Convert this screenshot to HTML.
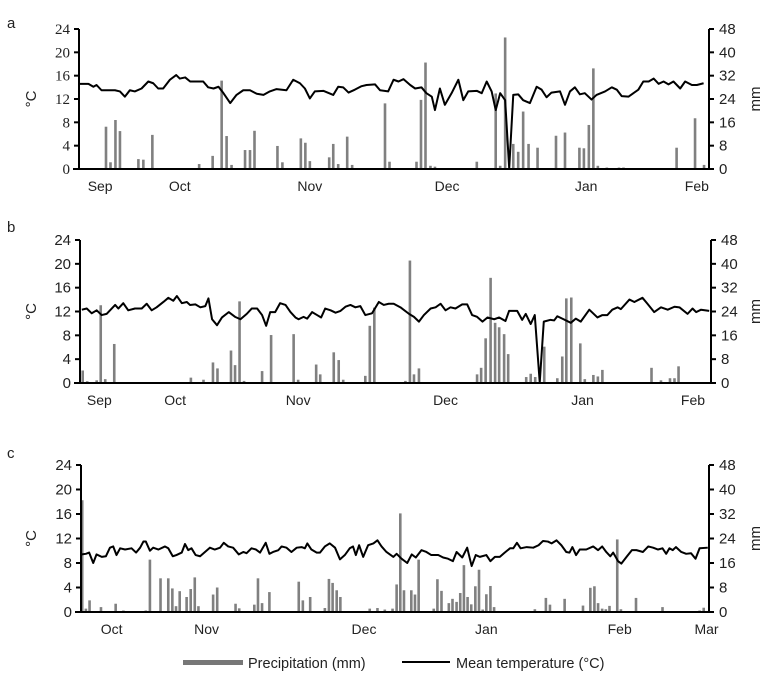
<!DOCTYPE html>
<html><head><meta charset="utf-8">
<style>
html,body{margin:0;padding:0;background:#fff;}
svg{display:block;font-family:"Liberation Sans",Arial,sans-serif;}
</style></head>
<body>
<svg id="chart" width="777" height="679" viewBox="0 0 777 679" xmlns="http://www.w3.org/2000/svg">
<g>
  <rect x="183" y="660" width="60" height="5" fill="#777"/>
  <text x="248" y="668" font-size="14.5" fill="#222">Precipitation (mm)</text>
  <line x1="402" y1="662" x2="450" y2="662" stroke="#000" stroke-width="2"/>
  <text x="456" y="668" font-size="14.5" fill="#222">Mean temperature (°C)</text>
</g>
</svg>
<script>
// ---- Panel a data ----
const aTempDay=[0.2,2.1,3.2,3.9,5,8,9.1,10.2,11.3,12.4,13.9,15.4,16.5,17.6,18.7,20.2,21.6,22.4,23.6,24.7,26.1,27.6,28.7,29.9,31,32.1,33.6,35,36.5,38,39.5,41,42.4,43.9,46.1,47.6,49.1,50.2,51.3,52.4,54.3,56.5,57.6,58.7,59.9,61.3,62.8,63.9,65.8,66.9,68.7,69.9,71,72.1,73.6,74.7,76.1,77.2,78.4,79.1,80.2,81.3,82.8,84.3,85.4,86.5,88.4,89.5,90.6,91.7,92.6,93.6,94.7,95.6,96.5,97.6,98.7,100.2,101.7,102.8,103.9,105,106.9,108,109.1,110.2,111.3,112.4,113.9,115,116.9,118.4,119.5,120.6,122.1,123.2,124.3,125.4,126.6,127.7,128.8,129.9,131,132.1,133.6,134.7,136.2,137.3,138.8];
const aTempVal=[14.6,14.6,14.1,14.4,13.5,13.5,13.3,12.4,13.5,13.3,13.8,15,14.7,13.8,13.8,15.3,16.1,15.5,15.7,15,15,15,14,13.8,14.1,13,11.3,12.7,13.5,13.5,12.9,12.7,13.3,13.7,13.5,15.3,14.7,13.8,12.1,13.3,13.4,12.7,14.1,14,13.1,13.6,14.2,14.4,14.5,13.5,13.3,15.3,15,15.4,14.4,13.8,14,13,12.4,10.1,13.8,11,13,15.3,11.8,13.3,13.4,13,15,13.3,10.1,13,11.8,0.1,12.7,12.8,11.8,11.3,14.1,13.6,12.3,13.1,13.3,11,13.3,14,12.8,13,11.9,12.7,13.3,14,13.6,12.5,12.4,13,13.6,15,15,15.5,14.6,15,14.5,15,13.8,15,14.4,14.4,14.7];
const aRainDay=[6,7,8.1,9.1,10.2,13.2,14.3,16.3,19.5,26.7,29.7,31.7,32.8,33.9,36.9,38,39,44.1,45.2,49.3,50.3,51.3,55.6,56.5,57.6,59.6,60.7,68,69,75,76,77,78.1,79.1,88.4,92.6,93.6,94.7,96.5,97.6,98.7,99.9,101.9,106,108,111.2,112.2,113.3,114.3,115.3,117.3,120,121,132.8,136.9,138.9];
const aRainVal=[14.5,2.3,16.8,13,0.2,3.4,3.2,11.7,0.2,1.7,4.5,30.3,11.3,1.4,6.5,6.5,13.1,7.9,2.3,10.5,9,2.7,4,8.6,1.7,11.1,1.4,22.5,2.5,2.5,23.7,36.5,1.1,0.8,2.5,25.9,1.1,45.1,8.6,5.9,19.7,8.6,7.3,11.4,12.5,7.3,7.1,15.1,34.5,1.1,0.5,0.5,0.5,7.3,17.4,1.4];
const aMonthLabels=["Sep","Oct","Nov","Dec","Jan","Feb"];
const aMonthDay=[4.7,22.4,51.3,81.8,112.7,137.3];

// ---- Panel b data ----
const bTempDay=[0.4,1.5,2.6,3.7,4.8,5.9,7.8,8.5,9.6,10.7,12.2,13.7,14.8,15.9,17,18.5,19.6,20.7,21.5,22.6,23.7,24.4,25.6,26.7,27.8,28.5,29.3,30.4,31.5,33,34.4,35.6,37,38.1,39.3,40.4,41.3,42.2,43.3,44.4,45.6,46.7,47.8,48.5,49.6,50.4,51.5,52.6,53.5,54.4,55.6,56.7,57.8,58.9,60,61.1,62.2,63.3,64.8,66.3,67.4,68.5,69.6,71.1,73,74.1,75.2,76.3,77.8,78.9,80,81.1,82.2,83.3,84.8,85.9,87,88.1,89.3,90.4,91.9,93,94.4,95.2,97,98.1,98.9,100,100.9,102,102.9,104.4,105.2,105.9,107,108.9,110,111.1,113,114.8,115.9,117,118.1,119.3,120,121.9,123,124.8,125.9,127.4,128.9,130.4,131.9,133,134.8,135.9,136.7,137.8,139.6];
const bTempVal=[12.3,12.5,11.7,12.2,11.4,11.6,13.1,12.5,13.4,12.2,12.5,12.5,13.3,12.2,12.7,13.6,14.3,13.8,14.6,13.4,13.6,13.1,13.2,12.7,12.9,14.2,10.7,9.7,11,11.9,11.1,10.7,11.6,12.5,12.5,11.4,9.6,11.9,11.9,13.4,13.1,11.9,11,10.7,11.1,10.8,11.9,11.4,11,12.5,12.2,11.8,12.1,12.8,13.1,12.7,12.9,11.4,11.7,13.6,13.1,13.3,13.3,12.7,11.6,11.1,10.3,11.4,12.5,12.7,13.3,12.2,12.7,12.5,13.2,13.2,11.4,11.1,10.3,11,10.7,11,10.4,12.1,12.1,10.6,11.6,9.9,11.4,0.1,10.3,10.6,10.5,11.2,10.8,10.1,10.8,10.3,12.3,11,11.4,11.4,12.3,12.7,12.4,14,13.6,14.3,13.3,11.9,12.7,12.3,12.8,12.7,11.6,12.5,11.9,12.3,12.1];
const bRainDay=[0.6,1.6,3.7,4.6,5.6,7.6,8.6,11.9,24.6,25.6,27.4,29.5,30.5,33.5,34.4,35.4,36.4,40.4,42.4,47.4,48.4,52.4,53.3,54.3,56.3,57.4,58.4,63.3,64.3,65.3,72.2,73.2,74.1,75.2,88.1,89,90,91.1,92.1,93,94.1,95,99,100,101,103,105.9,107,107.9,109,111,112,113.9,114.9,115.9,126.8,128.9,130.9,131.9,132.8];
const bRainVal=[4.2,0.6,0.9,26.1,1.3,13.1,0.3,0.3,1.8,0.3,1.1,6.9,4.9,10.9,6,27.4,0.7,4,16.1,16.4,1.1,6.2,2.9,0.3,10.3,7.7,1.1,2.4,19.2,25.3,0.7,41.1,2.9,4.9,2.9,5.1,15,35.3,20.2,18.7,16.4,9.7,2,3.1,2,12.2,1.6,8.9,28.4,28.7,13.3,1.3,2.7,2.2,4.4,5.1,0.9,1.6,1.6,5.6];
const bMonthLabels=["Sep","Oct","Nov","Dec","Jan","Feb"];
const bMonthDay=[4.3,21.1,48.4,81.1,111.5,136];

// ---- Panel c data ----
const cTempDay=[0.2,1.2,2,3,3.8,5.1,6.1,7.1,7.9,8.7,9.6,10.8,12.4,13.5,14.5,15.3,15.9,16.9,17.7,19,20.6,21.4,22.5,23.4,24.7,25.5,26.3,27.1,28.1,29.2,30.4,31.6,32.8,34.1,35,36.1,37.3,38.7,39.8,40.6,41.8,42.9,43.9,45.3,46.2,47.1,48.4,49.2,50.4,51.6,52.9,54.1,54.9,55.5,56.5,57.8,58.6,59.8,61,62.3,63.5,64.7,65.9,66.7,67.4,68.2,69.2,70.4,71.7,72.7,73.7,74.9,76.6,77.4,78.6,80,81.1,82.1,83.5,84.7,85.9,87.6,88.8,90,91.2,92.1,93.5,94.7,95.8,96.8,97.8,99.4,100.4,101.5,102.7,103.9,105.2,106,106.9,107.8,109.3,110.9,112.2,113.3,114.5,115.4,116.6,117.8,119,119.8,120.5,121.4,122.3,123.9,125.6,126.8,127.8,128.8,129.8,130.5,131.7,132.5,133.9,135.1,136.2,137.8,139.1,140.3,141.5,142.6,143.5,144.3,145.1,145.9,147.2,148.4,149.6,150.7,151.7,153.7];
const cTempVal=[9.4,9.5,9.7,8,9.4,9,9.1,10.5,10.7,9.3,10.4,10.2,10.4,9.7,10.5,11.5,11.5,10,10.5,10.2,10.7,10.4,9.1,9.3,9.7,11.1,10.1,10.4,9.3,9.1,9.8,10.5,10.2,10.5,11.3,10.7,10.5,9.4,9.8,9.6,10.4,10.2,9.7,11.3,9.5,9.8,10.1,10.7,10.5,9.8,10.5,10.6,10.4,11.2,10.2,9.7,9.7,10.7,11.2,10.5,8.6,9.3,10.4,10.7,9.3,10.9,9,10.9,11.2,11.7,10.7,9.8,9,9.5,8.7,8,9.4,8.9,10.1,9.8,9.3,9.3,8.9,8.7,8.3,9.8,8.9,10.5,7.5,9.3,9,9.3,8.3,9,9,9.7,10.4,10.4,11.3,10.4,10.6,10.5,10.9,11.6,11.5,11.2,11.7,10.9,9.8,9.7,10.6,9.3,10.2,10.2,10.7,10.1,10.7,9.8,9.1,9.7,8.3,7.9,9.1,10.1,10.1,9.8,10.7,10.5,10.2,10.4,9.5,10.4,10.1,10.6,9.8,9.5,9.6,8.7,10.4,10.5];
const cRainDay=[0.3,1.2,2.1,4.9,8.5,10.4,15.9,16.9,19.5,21.4,22.4,23.3,24.2,25.9,26.9,27.9,28.8,32.4,33.4,37.9,38.8,42.5,43.4,44.4,46.2,53.4,54.4,56.2,59.8,60.8,61.7,62.7,63.6,70.8,72.7,74.5,76.4,77.4,78.3,79.2,81,81.9,82.8,86.5,87.4,88.4,90.2,91.1,92.1,93,93.9,94.8,95.7,96.7,97.6,98.5,99.4,100.4,101.3,111.3,114,115,118.6,123.1,124.9,125.9,126.8,127.8,128.7,129.6,131.5,132.4,136.1,142.6,151.7,152.7];
const cRainVal=[36.5,1.1,3.8,1.6,2.7,0.5,0.5,17.1,11,11,7.7,1.9,6.8,4.9,7.5,11.3,1.9,5.7,8,2.7,1.2,2.4,11,2.9,6.5,9.9,3.8,4.9,1.3,10.8,9.5,7.1,4.9,1.1,1.3,0.8,1.1,9,32.2,7.1,7.1,5.7,17.1,1.1,10.7,6.9,2.9,4.3,3.3,6.2,15.3,4.9,2.5,8.4,13.8,0.8,5.8,8.5,1.6,0.9,4.6,2.4,4.3,2.1,7.9,8.4,2.9,1.1,0.9,2,23.7,0.9,4.6,1.6,0.5,1.4];
const cMonthLabels=["Oct","Nov","Dec","Jan","Feb","Mar"];
const cMonthDay=[7.5,30.8,69.4,99.4,132.1,153.4];

const leftTicks=[0,4,8,12,16,20,24];
const rightTicks=[0,8,16,24,32,40,48];

const NS="http://www.w3.org/2000/svg";
const svg=document.getElementById('chart');
function mk(tag,attrs,parent){const e=document.createElementNS(NS,tag);for(const k in attrs)e.setAttribute(k,attrs[k]);(parent||svg).appendChild(e);return e;}

function drawPanel(p){
  const g=mk('g',{});
  
  
  const xs=d=>p.x0+(d/p.days)*(p.x1-p.x0);
  const yT=v=>p.y0-(v/24)*(p.y0-p.yTop);
  const yR=v=>p.y0-(v/48)*(p.y0-p.yTop);
  const bw=2.6;
  for(let i=0;i<p.rainDay.length;i++){
    const y=yR(p.rainVal[i]);
    const r=mk('rect',{x:(xs(p.rainDay[i])-bw/2).toFixed(2),y:y.toFixed(2),width:bw,height:(p.y0-y).toFixed(2),fill:'#808080'},g);
    
    
  }
  let d='';
  for(let i=0;i<p.tempDay.length;i++){d+=(i?'L':'M')+xs(p.tempDay[i]).toFixed(2)+','+yT(p.tempVal[i]).toFixed(2);}
  const path=mk('path',{d:d,fill:'none',stroke:'#000','stroke-width':2,'stroke-linejoin':'round'},g);
  
  
  const ax=mk('g',{stroke:'#000','stroke-width':2},g);
  
  
  mk('line',{x1:p.x0,y1:p.yTop,x2:p.x0,y2:p.y0+1},ax);
  mk('line',{x1:p.x1,y1:p.yTop,x2:p.x1,y2:p.y0+1},ax);
  mk('line',{x1:p.x0-6,y1:p.y0,x2:p.x1+5,y2:p.y0},ax);
  for(const t of leftTicks){
    const y=yT(t);
    mk('line',{x1:p.x0-5,y1:y,x2:p.x0,y2:y},ax);
    const tx=mk('text',{x:p.x0-9,y:y+5,'font-size':15,'text-anchor':'end',fill:'#222','font-family':p.serif?'"Liberation Serif",serif':'"Liberation Sans",sans-serif'},g);
    tx.textContent=t;
    
    
  }
  for(const t of rightTicks){
    const y=yR(t);
    mk('line',{x1:p.x1,y1:y,x2:p.x1+5,y2:y},ax);
    const tx=mk('text',{x:p.x1+10,y:y+5,'font-size':15,fill:'#222'},g);
    tx.textContent=t;
    
    
  }
  for(let i=0;i<p.months.length;i++){
    const tx=mk('text',{x:xs(p.monthDay[i]),y:p.y0+22,'font-size':14,'text-anchor':'middle',fill:'#222'},g);
    tx.textContent=p.months[i];
    
    
  }
  const mid=(p.y0+p.yTop)/2;
  const yl=mk('text',{x:0,y:0,'font-size':15,'text-anchor':'middle',fill:'#222',transform:`translate(36,${mid}) rotate(-90)`},g);
  yl.textContent='°C';
  
  
  const yr=mk('text',{x:0,y:0,'font-size':15,'text-anchor':'middle',fill:'#222',transform:`translate(760,${mid}) rotate(-90)`},g);
  yr.textContent='mm';
  
  
  const pl=mk('text',{x:7,y:p.letterY,'font-size':15,fill:'#222'},g);
  pl.textContent=p.id;
  
  
}

drawPanel({id:'a',x0:79,x1:709,days:140,y0:169,yTop:29,serif:true,letterY:28,tempDay:aTempDay,tempVal:aTempVal,rainDay:aRainDay,rainVal:aRainVal,months:aMonthLabels,monthDay:aMonthDay});
drawPanel({id:'b',x0:80,x1:711,days:140,y0:383,yTop:240,serif:false,letterY:232,tempDay:bTempDay,tempVal:bTempVal,rainDay:bRainDay,rainVal:bRainVal,months:bMonthLabels,monthDay:bMonthDay});
drawPanel({id:'c',x0:81,x1:709,days:154,y0:612,yTop:465,serif:false,letterY:458,tempDay:cTempDay,tempVal:cTempVal,rainDay:cRainDay,rainVal:cRainVal,months:cMonthLabels,monthDay:cMonthDay});
</script>
</body></html>
